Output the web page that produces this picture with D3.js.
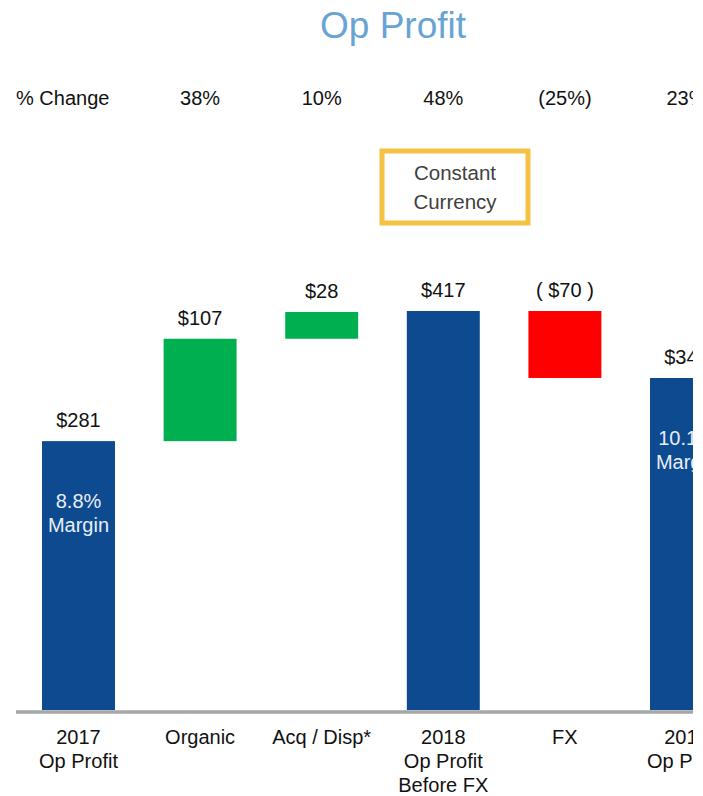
<!DOCTYPE html>
<html>
<head>
<meta charset="utf-8">
<script src="https://cdn.jsdelivr.net/npm/d3@7"></script>
<style>
  body { margin: 0; background: #fff; }
  svg text { font-family: "Liberation Sans", Arial, sans-serif; }
</style>
</head>
<body>
<div id="vis"></div>
<script>
// Waterfall data
var categories = ['2017|Op Profit', 'Organic', 'Acq / Disp*', '2018|Op Profit|Before FX', 'FX', '2018|Op Profit'];
var values = [281, 107, 28, 417, -70, 347];
var kinds = ['total', 'delta', 'delta', 'total', 'delta', 'total'];
var valueLabels = ['$281', '$107', '$28', '$417', '( $70 )', '$347'];
var pctChange = ['', '38%', '10%', '48%', '(25%)', '23%'];
var margins = ['8.8%', '', '', '', '', '10.1%'];

var width = 703, height = 796;
var baseY = 710;

var svg = d3.select('#vis').append('svg')
    .attr('width', width)
    .attr('height', height);

// the slide is cut off on the right
svg.append('clipPath').attr('id', 'crop')
    .append('rect').attr('x', 0).attr('y', 0).attr('width', 693).attr('height', height);

var g = svg.append('g').attr('clip-path', 'url(#crop)');

// Title
svg.append('text')
    .attr('x', 393).attr('y', 38)
    .attr('text-anchor', 'middle')
    .style('font-size', '37px')
    .style('fill', '#68a4d3')
    .text('Op Profit');

// Scales
var xScale = d3.scaleBand()
    .domain(d3.range(categories.length))
    .range([17.7, 747.3])
    .paddingInner(0.4)
    .paddingOuter(0.2);

var yScale = d3.scaleLinear()
    .domain([0, 417])
    .range([baseY, 311]);

// running totals for waterfall
var running = 0;
var bars = values.map(function(v, i) {
    var lo, hi;
    if (kinds[i] === 'total') {
        lo = 0; hi = v; running = v;
    } else {
        lo = Math.min(running, running + v);
        hi = Math.max(running, running + v);
        running = running + v;
    }
    return { i: i, v: v, lo: lo, hi: hi, kind: kinds[i] };
});

function barColor(d) {
    if (d.kind === 'total') return '#0d4a8f';
    return d.v >= 0 ? '#00b050' : '#ff0000';
}

// Bars
g.selectAll('rect.bar').data(bars).enter().append('rect')
    .attr('class', 'bar')
    .attr('x', function(d) { return xScale(d.i); })
    .attr('width', xScale.bandwidth())
    .attr('y', function(d) { return yScale(d.hi); })
    .attr('height', function(d) { return yScale(d.lo) - yScale(d.hi); })
    .style('fill', barColor);

// Baseline
g.append('line')
    .attr('x1', 16).attr('x2', width)
    .attr('y1', baseY + 2).attr('y2', baseY + 2)
    .style('stroke', '#a6a6a6')
    .style('stroke-width', 3.5);

// Value labels above bars
g.selectAll('text.val').data(bars).enter().append('text')
    .attr('class', 'val')
    .attr('x', function(d) { return xScale(d.i) + xScale.bandwidth() / 2; })
    .attr('y', function(d) { return yScale(d.hi) - 14; })
    .attr('text-anchor', 'middle')
    .style('font-size', '20px')
    .style('fill', '#111')
    .text(function(d) { return valueLabels[d.i]; });

// Margin labels inside total bars
bars.forEach(function(d) {
    if (!margins[d.i]) return;
    var cx = xScale(d.i) + xScale.bandwidth() / 2;
    var t = g.append('text')
        .attr('text-anchor', 'middle')
        .style('font-size', '20px')
        .style('fill', '#e8eef8');
    t.append('tspan').attr('x', cx).attr('y', yScale(d.hi) + 67).text(margins[d.i]);
    t.append('tspan').attr('x', cx).attr('y', yScale(d.hi) + 91).text('Margin');
});

// Category labels
g.selectAll('text.cat').data(categories).enter().append('text')
    .attr('class', 'cat')
    .attr('text-anchor', 'middle')
    .style('font-size', '20px')
    .style('fill', '#111')
    .each(function(c, i) {
        var cx = xScale(i) + xScale.bandwidth() / 2;
        d3.select(this).selectAll('tspan').data(c.split('|')).enter().append('tspan')
            .attr('x', cx)
            .attr('y', function(s, j) { return 744 + j * 24; })
            .text(function(s) { return s; });
    });

// % Change row
g.append('text')
    .attr('x', 16).attr('y', 105)
    .style('font-size', '20px')
    .style('fill', '#111')
    .text('% Change');

g.selectAll('text.pct').data(pctChange).enter().append('text')
    .attr('class', 'pct')
    .attr('x', function(d, i) { return xScale(i) + xScale.bandwidth() / 2; })
    .attr('y', 105)
    .attr('text-anchor', 'middle')
    .style('font-size', '20px')
    .style('fill', '#111')
    .text(function(d) { return d; });

// Constant currency box
g.append('rect')
    .attr('x', 382).attr('y', 151)
    .attr('width', 146).attr('height', 72)
    .style('fill', 'none')
    .style('stroke', '#f4c242')
    .style('stroke-width', 5);

var box = g.append('text')
    .attr('text-anchor', 'middle')
    .style('font-size', '20.5px')
    .style('fill', '#404040');
box.append('tspan').attr('x', 455).attr('y', 180).text('Constant');
box.append('tspan').attr('x', 455).attr('y', 209).text('Currency');
</script>
</body>
</html>
